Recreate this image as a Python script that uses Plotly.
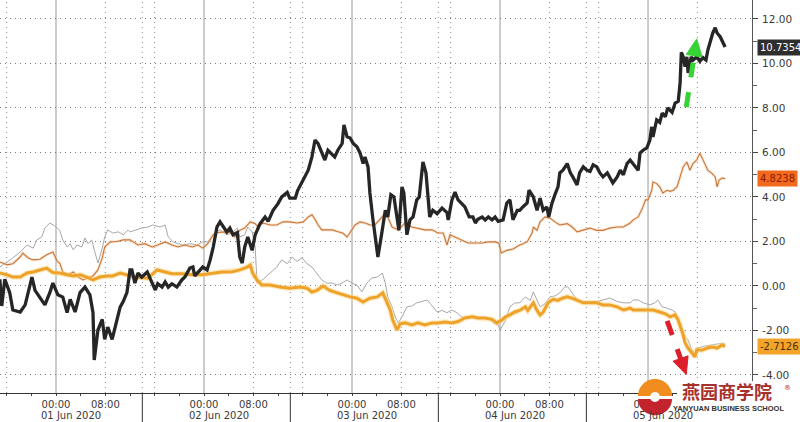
import numpy as np
import plotly.graph_objects as go

# ---------------- data (time = hours since 01 Jun 2020 00:00) ----------------
black_t = [-9.1,-8.8,-8.3,-7.5,-7.0,-5.8,-5.0,-3.9,-3.4,-2.6,-1.8,-1.0,-0.5,0.3,1.1,1.8,2.3,3.1,3.9,4.7,5.5,6.0,6.2,6.8,7.5,7.9,8.4,9.1,9.9,10.4,10.9,11.5,12.0,
           12.3,12.8,13.3,13.9,14.8,15.6,16.1,16.5,17.2,17.7,18.2,18.8,19.6,20.4,20.9,21.7,22.2,22.5,23.4,23.8,24.5,25.0,25.5,26.1,26.6,27.1,27.7,28.2,28.7,29.4,29.8,30.2,30.6,31.1,31.8,32.3,
           32.6,33.1,33.9,34.4,35.2,36.0,36.6,37.5,37.9,38.8,39.2,39.9,40.4,40.9,41.5,42.0,42.5,43.1,43.6,44.1,44.8,45.2,45.7,46.4,46.7,47.2,47.7,48.2,48.8,49.3,49.8,50.1,50.6,50.9,51.4,51.9,52.2,
           52.9,53.4,53.8,54.3,54.8,55.3,55.6,56.1,56.4,56.9,57.4,57.9,58.5,58.9,59.5,60.0,60.3,60.6,61.1,61.8,62.6,63.4,63.6,64.2,64.7,65.2,65.8,66.3,67.0,67.6,68.0,68.4,69.1,69.6,70.1,70.7,71.2,71.7,72.5,
           73.1,73.6,74.1,74.8,75.2,75.7,76.4,76.7,77.4,78.0,78.5,79.0,79.6,79.9,80.4,80.9,81.4,81.7,82.2,82.9,83.4,83.8,84.5,84.9,85.5,86.1,86.6,87.1,87.7,88.2,88.7,89.4,89.8,90.3,91.0,91.5,92.0,92.6,93.1,
           93.9,94.4,94.7,95.2,95.8,96.3,96.6,96.8,97.4,97.9,98.3,98.8,99.2,99.9,100.4,100.9,101.2,101.4,101.7,102.0,102.3,102.5,103.0,103.3,103.9,104.4,104.9,105.4,105.7,106.2,106.5,106.9,107.2,107.7,108.0,108.2,108.5]
black_v = [0.3,-0.9,0.3,-0.3,-1.08,-1.17,-0.85,0.4,-0.2,-0.5,-0.85,-0.3,0.13,-0.4,-0.5,-1.2,-0.6,-1.17,-0.3,-0.05,-0.4,-1.2,-3.33,-1.98,-1.5,-2.4,-1.85,-2.4,-1.5,-0.95,-0.7,-0.3,0.72,
           0.72,0.13,0.58,0.4,0.63,0.13,-0.18,0.1,-0.05,0.18,-0.05,0.1,-0.05,0.27,0.4,0.8,0.85,0.45,0.72,0.85,0.72,1.17,1.75,2.65,2.88,2.65,2.43,2.6,2.3,2.4,1.3,1.03,1.75,2.2,1.6,2.3,
           2.5,2.8,3.1,2.9,3.4,3.7,4.0,4.2,3.95,3.95,4.3,4.67,4.9,5.2,5.8,6.56,6.4,6.0,5.66,6.1,5.9,5.8,6.1,6.4,7.24,6.7,6.65,6.4,6.25,5.98,5.5,5.8,5.35,4.18,2.97,1.93,1.3,
           2.5,3.4,3.1,4.1,4.0,3.1,2.5,4.45,4.2,2.3,2.97,3.1,3.87,4.0,5.57,5.07,4.0,3.1,3.4,3.25,3.5,3.3,2.97,3.87,4.22,3.87,3.7,3.55,3.1,3.1,2.83,3.0,3.1,2.97,3.1,2.97,3.1,2.9,2.97,
           3.73,3.87,2.97,3.4,3.4,3.55,3.73,4.3,4.0,3.4,3.95,3.4,3.55,3.1,3.7,4.1,4.45,5.08,5.2,5.5,5.08,4.9,4.54,5.08,5.35,5.2,5.15,5.44,5.35,5.08,4.9,5.08,4.9,4.63,4.9,5.2,5.0,5.5,5.66,
           5.4,5.2,5.97,6.1,6.2,6.56,7.15,6.7,7.46,7.35,7.77,7.6,8.0,7.8,8.22,8.3,9.1,10.5,10.3,9.85,10.3,9.57,10.3,10.15,10.3,10.1,10.26,10.15,10.6,11.05,11.37,11.6,11.37,11.2,11.05,10.9,10.7354]

brown_t = [-9.1,-7.9,-7.0,-5.8,-5.4,-4.5,-3.7,-2.6,-1.5,-0.5,0.2,0.6,1.1,2.0,2.8,3.6,4.4,5.2,6.0,6.8,7.5,7.9,8.8,9.9,10.9,12.0,13.3,14.4,15.6,16.5,17.7,18.8,19.8,20.9,22.1,23.0,23.8,24.6,
           25.5,26.3,27.4,28.2,29.0,29.8,30.6,31.5,32.3,32.6,33.6,34.7,35.8,36.8,37.9,39.1,40.1,40.9,41.5,42.0,42.5,43.1,43.9,44.8,45.6,46.5,47.2,47.7,48.5,49.3,50.1,50.9,51.7,52.9,53.4,53.8,
           54.5,55.5,56.6,57.7,58.7,59.8,61.0,61.9,62.8,63.4,63.9,64.7,65.8,66.8,68.0,69.1,70.1,71.2,71.8,72.2,73.1,74.1,75.2,76.4,77.2,77.4,78.0,78.5,79.3,80.1,80.9,81.7,82.9,83.7,84.5,
           85.5,86.6,87.7,88.7,89.8,91.0,92.0,93.1,93.6,94.4,95.1,95.6,96.0,96.6,96.8,97.4,97.9,98.4,99.1,99.6,100.1,100.7,101.2,101.7,102.3,102.8,103.3,103.9,104.4,104.9,105.4,105.7,106.4,
           106.9,107.2,107.5,108.0,108.5]
brown_v = [1.08,0.95,1.0,1.3,1.48,1.26,1.17,1.2,1.4,1.53,1.1,1.03,0.63,0.5,0.63,0.4,0.27,0.35,0.45,0.72,1.26,1.75,1.98,2.0,2.07,2.07,1.84,1.9,1.75,1.84,1.98,1.84,1.75,1.84,1.75,1.84,1.7,1.9,
           2.3,2.4,2.43,2.4,2.2,2.5,2.6,2.88,2.8,2.7,2.83,2.74,2.74,2.88,2.88,2.83,2.88,3.1,3.2,3.0,2.74,2.52,2.52,2.52,2.45,2.38,2.2,2.4,2.74,2.88,2.83,2.74,2.74,3.1,3.3,3.1,
           2.65,2.52,2.83,2.65,2.6,2.52,2.52,2.38,2.38,1.84,2.3,2.2,2.07,1.93,1.93,1.93,1.98,1.98,1.93,1.48,1.6,1.66,1.84,1.98,2.38,2.65,2.5,2.88,3.1,3.05,2.88,2.74,2.8,2.65,2.43,
           2.5,2.6,2.5,2.5,2.6,2.65,2.65,2.83,2.97,3.1,3.5,3.87,3.87,4.3,4.67,4.6,4.45,4.18,4.3,4.25,4.3,4.45,4.9,5.35,5.57,5.2,5.5,5.66,5.97,5.66,5.35,5.2,5.05,
           4.9,4.45,4.75,4.85,4.8238]

gold_t = [-9.1,-7.9,-7.0,-5.8,-4.7,-3.7,-2.6,-1.5,-0.5,0.6,1.8,2.8,3.9,5.0,6.0,7.1,8.3,9.2,10.4,11.5,12.8,14.9,16.4,17.7,18.8,20.4,22.1,23.7,25.3,26.9,28.5,29.8,31.0,31.5,31.9,32.6,33.4,
          34.7,36.3,37.9,39.6,40.7,41.5,42.3,43.3,44.4,45.6,46.5,47.7,48.8,49.8,50.9,52.1,53.0,53.7,54.2,54.6,55.3,55.8,56.6,57.7,58.7,59.8,61.0,61.9,63.1,64.2,65.2,66.3,67.5,68.4,69.6,70.7,
          71.5,72.3,72.8,73.6,74.4,75.2,76.1,76.5,77.4,78.0,78.5,79.0,79.8,80.6,81.4,82.1,82.9,83.7,84.5,85.5,86.6,87.7,88.7,89.8,91.0,92.0,93.1,93.6,94.7,95.8,96.8,97.9,98.8,99.6,100.4,
          100.9,101.6,102.0,102.5,103.1,103.6,103.9,104.8,105.6,106.4,107.2,108.0,108.5]
gold_v = [0.58,0.5,0.4,0.4,0.58,0.63,0.72,0.8,0.6,0.58,0.5,0.45,0.5,0.4,0.27,0.4,0.45,0.45,0.58,0.5,0.4,0.35,0.72,0.63,0.55,0.55,0.5,0.5,0.58,0.63,0.63,0.72,0.85,0.94,0.58,0.27,0.04,
          0.04,-0.05,-0.1,-0.05,-0.1,-0.27,-0.2,0.0,-0.2,-0.31,-0.4,-0.49,-0.55,-0.72,-0.55,-0.49,-0.31,-0.76,-1.08,-1.53,-1.98,-1.7,-1.66,-1.75,-1.66,-1.75,-1.66,-1.66,-1.62,-1.66,-1.6,-1.44,-1.39,-1.44,-1.44,-1.5,
          -1.66,-1.53,-1.4,-1.3,-1.17,-1.1,-0.94,-1.1,-0.76,-1.1,-1.3,-1.17,-0.76,-0.6,-0.65,-0.55,-0.49,-0.55,-0.65,-0.76,-0.76,-0.76,-0.85,-0.85,-0.94,-1.08,-1.0,-1.08,-1.08,-1.08,-1.08,-1.17,-1.25,-1.39,-1.3,
          -1.53,-2.11,-2.56,-2.79,-3.0,-3.19,-2.88,-2.88,-2.79,-2.74,-2.79,-2.65,-2.7126]

gray_t = [-9.1,-7.9,-7.0,-5.8,-4.7,-3.7,-3.1,-2.3,-1.8,-1.0,-0.2,0.6,1.1,1.8,2.3,2.8,3.4,4.2,4.7,5.2,5.8,6.3,6.8,7.5,7.9,8.4,9.2,10.1,10.9,11.7,12.0,12.8,13.9,14.9,15.7,16.9,17.7,18.2,19.0,
          19.8,20.6,21.7,22.9,23.8,24.6,25.8,26.6,27.7,28.5,29.4,29.8,30.6,31.1,31.8,32.3,32.6,33.6,34.7,35.8,36.6,37.5,38.3,39.1,39.9,40.7,41.5,42.3,43.1,43.9,44.8,45.6,46.4,47.2,48.0,48.8,
          49.6,50.4,51.2,52.1,52.9,53.4,53.8,54.5,55.0,55.5,56.1,56.9,57.7,58.5,59.4,60.2,61.0,61.8,62.6,63.4,64.2,65.0,65.8,66.8,68.0,69.1,70.1,70.9,71.7,72.0,72.8,73.6,74.4,75.2,76.1,76.9,
          77.4,78.0,78.5,79.3,80.1,80.9,81.7,82.5,83.0,83.7,84.5,85.5,86.6,87.7,88.7,89.8,91.0,92.0,93.1,93.6,94.4,95.2,96.3,97.1,97.6,98.3,99.1,99.9,100.4,100.9,101.6,102.0,102.5,103.1,
          103.6,104.1,105.2,106.4,107.4,108.5]
gray_v = [0.85,1.08,1.26,1.53,1.84,1.7,2.07,2.2,2.6,2.83,2.7,2.5,2.07,1.75,1.9,1.62,1.84,1.75,2.16,1.9,2.07,1.53,1.03,1.7,2.2,2.52,2.38,2.43,2.3,2.52,2.43,2.5,2.6,2.65,2.74,2.65,2.74,2.2,1.98,
          1.9,1.84,1.9,1.84,1.98,1.98,2.38,2.52,2.3,2.38,2.6,2.2,2.3,2.65,2.43,1.75,0.13,0.3,0.58,0.85,1.17,1.0,1.3,1.1,1.26,1.0,0.85,0.58,0.27,0.13,0.13,0.04,0.13,0.27,0.13,0.04,
          -0.27,0.13,0.36,0.4,0.58,0.13,-0.49,-0.94,-1.39,-1.66,-1.39,-0.94,-0.9,-0.76,-0.7,-0.63,-0.9,-1.17,-1.1,-1.2,-1.08,-1.2,-1.39,-1.44,-1.39,-1.44,-1.44,-1.66,-1.75,-1.98,-1.6,-0.94,
          -0.76,-0.76,-0.49,-0.65,-0.27,-0.65,-0.94,-0.8,-0.49,-0.45,-0.31,-0.04,-0.04,-0.31,-0.63,-0.7,-0.7,-0.7,-0.63,-0.54,-0.7,-0.76,-0.76,-0.63,-0.63,-0.76,-0.85,-0.76,-0.63,-0.94,-1.0,
          -1.08,-1.17,-1.62,-1.98,-2.29,-2.43,-2.88,-3.0,-2.79,-2.7,-2.65,-2.6,-2.6]

y_ticks = [-4, -2, 0, 2, 4, 6, 8, 10, 12]
y_tick_text = ["-4.00", "-2.00", "0.00", "2.00", "4.00", "6.00", "8.00", "10.00", "12.00"]
day_labels = ["01 Jun 2020", "02 Jun 2020", "03 Jun 2020", "04 Jun 2020", "05 Jun 2020"]

# ---------------- axes geometry ----------------
X0, X1 = -9.08, 112.86
Y0, Y1 = -4.81, 12.85
PLOT_W, PLOT_H = 752, 393
PX_H = PLOT_W / (X1 - X0)
PX_U = PLOT_H / (Y1 - Y0)

FONT = "DejaVu Sans"
TXT = "#3a3a3a"

fig = go.Figure()
fig.add_trace(go.Scatter(x=gray_t, y=gray_v, mode="lines",
                         line=dict(color="#a8a8a8", width=1), hoverinfo="skip"))
fig.add_trace(go.Scatter(x=brown_t, y=brown_v, mode="lines",
                         line=dict(color="#f3c9a0", width=3), hoverinfo="skip", opacity=0.45))
fig.add_trace(go.Scatter(x=brown_t, y=brown_v, mode="lines",
                         line=dict(color="#c8763a", width=1.1), hoverinfo="skip"))
fig.add_trace(go.Scatter(x=gold_t, y=gold_v, mode="lines",
                         line=dict(color="#fbd88a", width=5.5), hoverinfo="skip", opacity=0.5))
fig.add_trace(go.Scatter(x=gold_t, y=gold_v, mode="lines",
                         line=dict(color="#eea22a", width=3), hoverinfo="skip"))
fig.add_trace(go.Scatter(x=black_t, y=black_v, mode="lines",
                         line=dict(color="#262626", width=3.3), hoverinfo="skip"))

# major tick arrow markers on the right axis
fig.add_trace(go.Scatter(x=[X1 + 0.45] * len(y_ticks), y=y_ticks, mode="markers",
                         marker=dict(symbol="triangle-right", size=7, color="#333333"),
                         cliponaxis=False, hoverinfo="skip"))

# last-value pointers
last_vals = [black_v[-1], brown_v[-1], gold_v[-1]]
box_bg = ["#2e2e2e", "#f26a1e", "#f3a52b"]
box_fg = ["#ffffff", "#8a1a05", "#4a2f00"]
fig.add_trace(go.Scatter(x=[X1 + 0.55] * 3, y=last_vals, mode="markers",
                         marker=dict(symbol="triangle-left", size=10, color=box_bg),
                         cliponaxis=False, hoverinfo="skip"))
for v, bg, fg in zip(last_vals, box_bg, box_fg):
    fig.add_annotation(x=1, xref="paper", y=v, yref="y", xanchor="left", yanchor="middle",
                       xshift=5, text=f"{v:.4f}", showarrow=False,
                       font=dict(family=FONT, size=10, color=fg),
                       bgcolor=bg, borderpad=2)

shapes = []
# vertical grid lines
for h in [0, 24, 48, 72, 96]:
    shapes.append(dict(type="line", xref="x", yref="paper", x0=h, x1=h, y0=0, y1=1,
                       line=dict(color="#999999", width=1), layer="below"))
for h in [-8, 8, 14, 16, 32, 38, 40, 56, 62, 64, 80, 86, 88, 104]:
    shapes.append(dict(type="line", xref="x", yref="paper", x0=h, x1=h, y0=0, y1=1,
                       line=dict(color="#8a8a8a", width=1, dash="1px,4px"), layer="below"))
# day separators below axis
for h in [14, 38, 62, 86]:
    shapes.append(dict(type="line", xref="x", yref="paper", x0=h, x1=h, y0=0, y1=-0.08,
                       line=dict(color="#333333", width=1)))


def arrow(t0, v0, t1, v1, color, width):
    dx = (t1 - t0) * PX_H
    dy = (v1 - v0) * PX_U
    L = np.hypot(dx, dy)
    ux, uy = dx / L, dy / L
    hl, hw = 17, 8
    bx, by = -ux * hl, -uy * hl
    px, py = -uy, ux
    pts = [(0, 0), (bx + px * hw, by + py * hw), (bx - px * hw, by - py * hw)]
    path = "M " + " L ".join(f"{t1 + a / PX_H:.4f},{v1 + b / PX_U:.4f}" for a, b in pts) + " Z"
    out = [dict(type="line", xref="x", yref="y", x0=t0, y0=v0,
                x1=t1 + (bx + ux * 2) / PX_H, y1=v1 + (by + uy * 2) / PX_U,
                line=dict(color=color, width=width, dash="dash"), layer="above"),
           dict(type="path", xref="x", yref="y", path=path, fillcolor=color,
                line=dict(color=color, width=1), layer="above")]
    return out


shapes += arrow(102.2, 8.04, 103.9, 11.1, "#35d335", 5)
shapes += arrow(99.1, -1.57, 102.2, -3.98, "#dc1f2b", 5)


def pp(px, py):
    return px / PLOT_W, (PLOT_H - py) / PLOT_H


# white backing behind the watermark text
x0p, y0p = pp(677, 412)
x1p, y1p = pp(781, 381)
shapes.append(dict(type="rect", xref="paper", yref="paper", x0=x0p, x1=x1p, y0=y0p, y1=y1p,
                   fillcolor="#ffffff", line=dict(width=0), layer="above"))

# watermark logo (circle, orange top / red bottom)
cx, cy, r = 655, 396, 17
ang = np.linspace(0, np.pi, 40)
top = [pp(cx + r * np.cos(a), cy - r * np.sin(a)) for a in ang]
bot = [pp(cx + r * np.cos(a), cy + 3 + r * 0.95 * np.sin(a)) for a in ang]
shapes.append(dict(type="path", xref="paper", yref="paper",
                   path="M " + " L ".join(f"{x:.5f},{y:.5f}" for x, y in top) + " Z",
                   fillcolor="#f18d1f", line=dict(width=0), layer="above"))
shapes.append(dict(type="path", xref="paper", yref="paper",
                   path="M " + " L ".join(f"{x:.5f},{y:.5f}" for x, y in bot) + " Z",
                   fillcolor="#c3232d", line=dict(width=0), layer="above"))
c0 = pp(cx - 5, cy + 6)
c1 = pp(cx + 5, cy - 4)
shapes.append(dict(type="circle", xref="paper", yref="paper",
                   x0=c0[0], x1=c1[0], y0=c0[1], y1=c1[1],
                   fillcolor="#ffffff", line=dict(width=0), layer="above"))

ax_, ay_ = pp(727, 391)
fig.add_annotation(x=ax_, y=ay_, xref="paper", yref="paper",
                   text="<b>燕园商学院</b>", showarrow=False, xanchor="center", yanchor="middle",
                   font=dict(family="Noto Sans CJK SC", size=18, color="#a8302c"))
ax_, ay_ = pp(787, 388)
fig.add_annotation(x=ax_, y=ay_, xref="paper", yref="paper",
                   text="®", showarrow=False, xanchor="center", yanchor="middle",
                   font=dict(family=FONT, size=7, color="#a8302c"))
ax_, ay_ = pp(728, 408)
fig.add_annotation(x=ax_, y=ay_, xref="paper", yref="paper",
                   text="<b>YANYUAN BUSINESS SCHOOL</b>", showarrow=False, xanchor="center",
                   yanchor="middle", font=dict(family="Liberation Sans", size=7.5, color="#333333"))

# day labels
for i, lab in enumerate(day_labels):
    fig.add_annotation(x=2.5 + 24 * i, xref="x", y=-0.056, yref="paper", text=lab,
                       showarrow=False, xanchor="center", yanchor="middle",
                       font=dict(family=FONT, size=10, color=TXT))

# tick labels (the 05 Jun 08:00 label sits under the watermark in the reference)
x_tickvals = list(range(-8, 109, 4))
x_ticktext = ["00:00" if h % 24 == 0 else ("08:00" if (h % 24 == 8 and h < 100) else "")
              for h in x_tickvals]

fig.update_layout(
    width=800, height=422,
    margin=dict(l=0, r=48, t=0, b=29),
    paper_bgcolor="white", plot_bgcolor="white",
    showlegend=False,
    shapes=shapes,
    font=dict(family=FONT, size=10, color=TXT),
    xaxis=dict(range=[X0, X1], showgrid=False, zeroline=False,
               tickvals=x_tickvals, ticktext=x_ticktext,
               ticks="outside", ticklen=2, tickcolor="#444", tickwidth=1,
               showline=True, linecolor="#333", linewidth=1,
               tickfont=dict(family=FONT, size=10, color=TXT)),
    yaxis=dict(range=[Y0, Y1], side="right", zeroline=False,
               tickvals=y_ticks, ticktext=y_tick_text,
               showgrid=True, gridcolor="#7a7a7a", griddash="1px,4px", gridwidth=1,
               ticks="outside", ticklen=5, tickcolor="#444",
               minor=dict(tickvals=[-3, -1, 1, 3, 5, 7, 9, 11], ticks="outside", ticklen=4,
                          tickcolor="#666", showgrid=False),
               showline=True, linecolor="#555", linewidth=1,
               ticklabelstandoff=2,
               tickfont=dict(family=FONT, size=10.5, color=TXT)),
)

fig.write_html("out.html", config={"displayModeBar": False},
               post_script="document.body.style.margin='0px';document.body.style.padding='0px';")
